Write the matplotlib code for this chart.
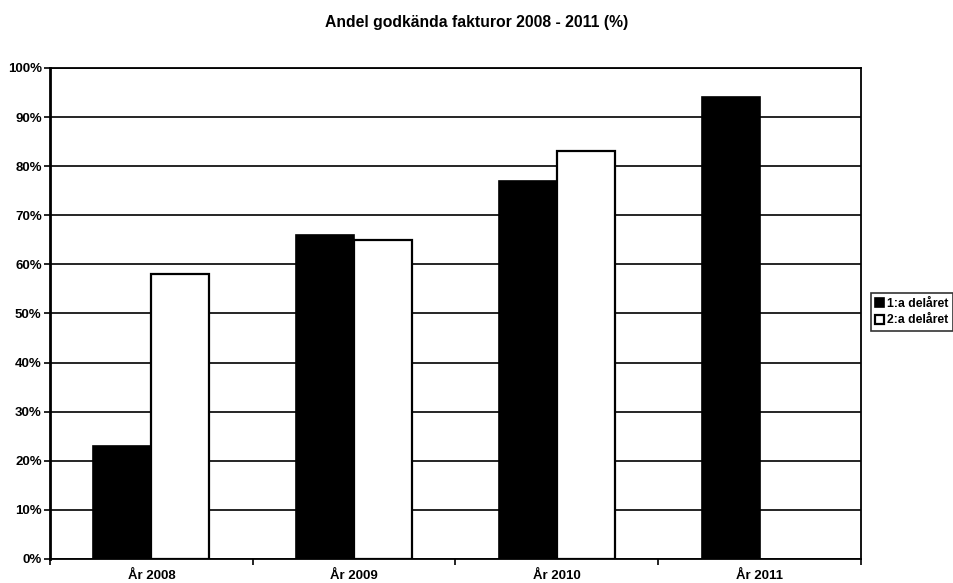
import numpy as np
import matplotlib
matplotlib.use("Agg")
import matplotlib.pyplot as plt
from matplotlib.ticker import FuncFormatter

plt.rcParams['font.family'] = ['Liberation Sans', 'DejaVu Sans']

# data
years = ["År 2008", "År 2009", "År 2010", "År 2011"]
q1 = [23, 66, 77, 94]            # 1:a delåret
q2 = [58, 65, 83, np.nan]        # 2:a delåret (no value for 2011)
series_names = ["1:a delåret", "2:a delåret"]

fig = plt.figure(figsize=(9.54, 5.83), dpi=100)
ax = fig.add_axes([0.0524, 0.0412, 0.8501, 0.8422])

x = np.arange(len(years))
w = 0.286
ax.bar(x - w/2, q1, w, color="black", edgecolor="black", linewidth=1.2,
       label=series_names[0], zorder=3)
ax.bar(x + w/2, q2, w, color="white", edgecolor="black", linewidth=1.6,
       label=series_names[1], zorder=3)

ax.set_xlim(-0.5, len(years) - 0.5)
ax.set_ylim(0, 100)
ax.set_yticks(np.arange(0, 101, 10))
ax.yaxis.set_major_formatter(FuncFormatter(lambda v, p: f"{int(v)}%"))
ax.yaxis.grid(True, color="black", linewidth=1.2, zorder=1)

ax.set_xticks(x)
ax.set_xticklabels(years)
ax.set_xticks(np.arange(-0.5, len(years)), minor=True)
ax.tick_params(axis="x", which="major", length=0, pad=8)
ax.tick_params(axis="x", which="minor", length=4, width=1.2)
ax.tick_params(axis="y", length=4, width=1.2, pad=2)
for lab in ax.get_xticklabels() + ax.get_yticklabels():
    lab.set_fontweight("bold")
    lab.set_fontsize(9.5)

for s in ax.spines.values():
    s.set_linewidth(1.3)
ax.spines["left"].set_linewidth(2)

fig.text(0.50, 0.961, "Andel godkända fakturor 2008 - 2011 (%)",
         ha="center", va="center", fontsize=11.3, fontweight="bold")

leg = fig.legend(loc="upper left", bbox_to_anchor=(0.913, 0.497),
                 frameon=True, fancybox=False, edgecolor="black",
                 prop={"weight": "bold", "size": 8.8},
                 handlelength=0.75, handleheight=0.75, handletextpad=0.2,
                 borderpad=0.35, borderaxespad=0, labelspacing=0.4)
leg.get_frame().set_linewidth(1.2)

fig.savefig("out.png", dpi=100)
